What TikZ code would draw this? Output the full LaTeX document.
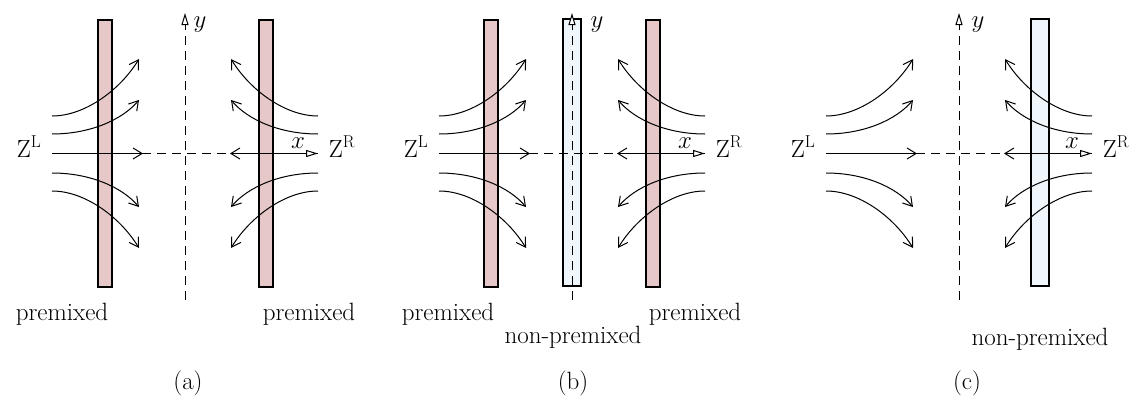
\documentclass[tikz,border=0pt]{standalone}
\usetikzlibrary{arrows.meta}
\definecolor{premix}{HTML}{E6C8C9}
\definecolor{nonpremix}{HTML}{EFF7FC}
\tikzset{
 flow/.style={line width=1pt,-{Straight Barb[length=9pt,width=11pt,line width=1pt]}},
 axisline/.style={line width=1pt,dash pattern=on 9pt off 6pt,-{Triangle[length=12pt,width=7pt,fill=white,line width=1pt]}},
 pbar/.style={draw,line width=1.1pt,fill=premix},
 nbar/.style={draw,line width=1.1pt,fill=nonpremix},
 txt/.style={inner sep=0pt,font=\fontsize{25}{30}\selectfont},
}
\newcommand\flowhalf{%
 \draw[flow] (-133,-37.5) .. controls (-100,-37.5) and (-65,-63.5) .. (-46,-94.5);
 \draw[flow] (-133,-19.5) .. controls (-95,-19.5) and (-63,-33.5) .. (-46,-53.5);
 \draw[flow] (-133,37.5) .. controls (-100,37.5) and (-65,63.5) .. (-46,94.5);
 \draw[flow] (-133,19.5) .. controls (-95,19.5) and (-63,33.5) .. (-46,53.5);
}
\newcommand\flowpanel{%
 \begin{scope}[shift={(0,153.5)}]
  \flowhalf
  \draw[flow] (-133,0) -- (-42,0);
  \begin{scope}[xscale=-1]
   \flowhalf
   \draw[flow] (-133,0) -- (-45,0);
  \end{scope}
  \draw[axisline] (-133,0) -- (133,0);
 \end{scope}
 \draw[axisline] (0,300) -- (0,13);
 \node[txt,anchor=base] (zl) at (-156,157) {$\mathrm{Z}^{\mathrm{L}}$};
 \node[txt,anchor=base] (zr) at (157,157) {$\mathrm{Z}^{\mathrm{R}}$};
 \node[txt,anchor=base] (xl) at (113,148) {$x$};
}
\begin{document}
\begin{tikzpicture}[x=1pt,y=-1pt]
\useasboundingbox (0,0) rectangle (1133,399);
% panel (a)
\begin{scope}[xshift=185pt]
 \draw[pbar] (-87,20) rectangle (-73,287);
 \draw[pbar] (74,20) rectangle (88,287);
 \flowpanel
 \node[txt,anchor=base] (ya) at (15,27) {$y$};
 \node[txt,anchor=base] (pla) at (-123,320) {premixed};
 \node[txt,anchor=base] (pra) at (124,320) {premixed};
 \node[txt] (capa) at (3,383) {(a)};
\end{scope}
% panel (b)
\begin{scope}[xshift=572pt]
 \draw[pbar] (-88,20) rectangle (-74,287);
 \draw[pbar] (74,20) rectangle (88,287);
 \draw[nbar] (-9,19) rectangle (9,286);
 \flowpanel
 \node[txt,anchor=base] (yb) at (25,27) {$y$};
 \node[txt,anchor=base] (plb) at (-124,320) {premixed};
 \node[txt,anchor=base] (prb) at (123,320) {premixed};
 \node[txt,anchor=base] (npb) at (1,343) {non-premixed};
 \node[txt] (capb) at (1,383) {(b)};
\end{scope}
% panel (c)
\begin{scope}[xshift=959pt]
 \draw[nbar] (72,19) rectangle (90,286);
 \flowpanel
 \node[txt,anchor=base] (yc) at (19,27) {$y$};
 \node[txt,anchor=base] (npc) at (81,345) {non-premixed};
 \node[txt] (capc) at (8,383) {(c)};
\end{scope}
\end{tikzpicture}
\end{document}
